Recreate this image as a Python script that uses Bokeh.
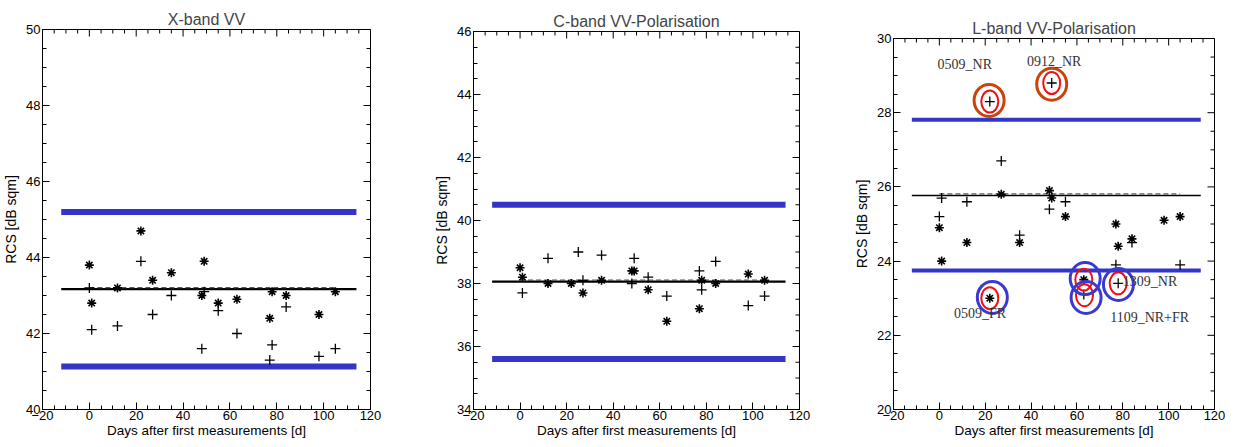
import numpy as np
from bokeh.plotting import figure
from bokeh.layouts import row, column
from bokeh.models import Range1d, SingleIntervalTicker, LinearAxis, Label, Spacer
from bokeh.embed import file_html
from bokeh.resources import INLINE

# ---------------- data ----------------
titles = ["X-band VV", "C-band VV-Polarisation", "L-band VV-Polarisation"]
y_limits = [(40, 50), (34, 46), (20, 30)]
x_limits = (-20, 120)
x_label = "Days after first measurements [d]"
y_label = "RCS [dB sqm]"

x_star_days = [0, 1, 12, 22, 27, 35, 48, 49, 55, 63, 77, 78, 84, 98, 105]
x_star = [43.8, 42.8, 43.2, 44.7, 43.4, 43.6, 43.0, 43.9, 42.8, 42.9, 42.4, 43.1, 43.0, 42.5, 43.1]
x_plus_days = [0, 1, 12, 22, 27, 35, 48, 49, 55, 63, 77, 78, 84, 98, 105]
x_plus = [43.2, 42.1, 42.2, 43.9, 42.5, 43.0, 41.6, 43.1, 42.6, 42.0, 41.3, 41.7, 42.7, 41.4, 41.6]

c_star_days = [0, 1, 12, 22, 27, 35, 48, 49, 55, 63, 77, 78, 84, 98, 105]
c_star = [38.5, 38.2, 38.0, 38.0, 37.7, 38.1, 38.4, 38.4, 37.8, 36.8, 37.2, 38.1, 38.0, 38.3, 38.1]
c_plus_days = [1, 12, 25, 27, 35, 48, 49, 55, 63, 77, 78, 84, 98, 105]
c_plus = [37.7, 38.8, 39.0, 38.1, 38.9, 38.0, 38.8, 38.2, 37.6, 38.4, 37.8, 38.7, 37.3, 37.6]

l_star_days = [0, 1, 12, 22, 27, 35, 48, 49, 55, 63, 77, 78, 84, 98, 105]
l_star = [24.9, 24.0, 24.5, 23.0, 25.8, 24.5, 25.9, 25.7, 25.2, 23.5, 25.0, 24.4, 24.6, 25.1, 25.2]
l_plus_days = [0, 1, 12, 22, 27, 35, 48, 49, 55, 63, 77, 78, 84, 105]
l_plus = [25.2, 25.7, 25.6, 28.3, 26.7, 24.7, 25.4, 28.8, 25.6, 23.1, 23.9, 23.4, 24.5, 23.9]

means = [43.17, 38.06, 25.77]
upper_limits = [45.2, 40.5, 27.81]
lower_limits = [41.13, 35.6, 23.75]
line_span = (-12, 114)

# L-band highlighted points
red_days = [22, 49, 22, 63, 63.3, 78]
red_vals = [28.3, 28.8, 23.0, 23.5, 23.08, 23.4]
brown_days = [21.7, 49]
brown_vals = [28.33, 28.77]
blue_days = [23.1, 63.6, 64, 78.1]
blue_vals = [23.02, 23.53, 23.02, 23.37]

annot_text = ["0509_NR", "0912_NR", "0509_FR", "1309_NR", "1109_NR+FR"]
annot_x = [-0.8, 38.2, 6.4, 80.0, 74.5]
annot_y = [29.3, 29.39, 22.6, 23.45, 22.47]

FONT = "Liberation Sans"
BLUE = "#3434c8"


def style_axis(ax):
    ax.major_tick_in = 7
    ax.major_tick_out = 0
    ax.minor_tick_in = 4
    ax.minor_tick_out = 0
    ax.major_tick_line_color = "black"
    ax.minor_tick_line_color = "black"
    ax.axis_line_color = "black"
    ax.major_label_text_font = FONT
    ax.major_label_text_font_size = "13px"
    ax.major_label_text_color = "black"
    ax.major_label_standoff = 2
    ax.axis_label_text_font = FONT
    ax.axis_label_text_font_size = "13.5px"
    ax.axis_label_text_font_style = "normal"
    ax.axis_label_text_color = "black"


def make_panel(i, sd, sv, pd, pv, frame, borders, blue_w, mean_w):
    ylo, yhi = y_limits[i]
    xlo, xhi = x_limits
    p = figure(frame_width=frame[0], frame_height=frame[1],
               output_backend="svg", toolbar_location=None,
               x_range=Range1d(xlo, xhi), y_range=Range1d(ylo, yhi),
               x_axis_type=None, y_axis_type=None,
               min_border_left=borders[0], min_border_right=borders[1],
               min_border_top=borders[2], min_border_bottom=borders[3])
    p.title.text = titles[i]
    p.title.align = "center"
    p.title.text_font = FONT
    p.title.text_font_size = "16px"
    p.title.text_font_style = "normal"
    p.title.standoff = 3
    p.outline_line_color = "black"
    p.outline_line_width = 1
    p.background_fill_color = "white"
    p.border_fill_color = "white"

    xb = LinearAxis(ticker=SingleIntervalTicker(interval=20, num_minor_ticks=4), axis_label=x_label)
    style_axis(xb)
    xb.major_label_standoff = 1
    xb.axis_label_standoff = 0
    yl = LinearAxis(ticker=SingleIntervalTicker(interval=2, num_minor_ticks=4), axis_label=y_label)
    style_axis(yl)
    yl.axis_label_standoff = 4
    yl.axis_label_text_font_size = "14px"
    p.add_layout(xb, "below")
    p.add_layout(yl, "left")

    # mirrored ticks on top and right (inside the frame)
    xmaj = np.arange(xlo, xhi + 0.1, 20)
    xmin = np.array([v for v in np.arange(xlo, xhi + 0.1, 5) if v % 20])
    ymaj = np.arange(ylo, yhi + 0.01, 2)
    ymin = np.array([v for v in np.arange(ylo, yhi + 0.01, 0.5) if v % 2])
    p.scatter(xmaj, [yhi] * len(xmaj), marker="dash", angle=np.pi / 2, size=14, line_color="black")
    p.scatter(xmin, [yhi] * len(xmin), marker="dash", angle=np.pi / 2, size=8, line_color="black")
    p.scatter([xhi] * len(ymaj), ymaj, marker="dash", size=14, line_color="black")
    p.scatter([xhi] * len(ymin), ymin, marker="dash", size=8, line_color="black")

    y_px = (yhi - ylo) / frame[1]
    # limit lines
    p.line(list(line_span), [upper_limits[i]] * 2, line_color=BLUE, line_width=blue_w)
    p.line(list(line_span), [lower_limits[i]] * 2, line_color=BLUE, line_width=blue_w)
    # mean lines
    p.line(list(line_span), [means[i]] * 2, line_color="black", line_width=mean_w)
    p.line([min(sd), max(sd)], [means[i] + 1.5 * y_px] * 2,
           line_color="#555555", line_width=1.3, line_dash="5 3")

    p.scatter(pd, pv, marker="cross", size=10, line_color="black", line_width=1.3)
    p.scatter(sd, sv, marker="asterisk", size=9, line_color="black", line_width=1.6)
    return p


p1 = make_panel(0, x_star_days, x_star, x_plus_days, x_plus, (328, 380), (38, 44, 5, 34), 6, 2.2)
p2 = make_panel(1, c_star_days, c_star, c_plus_days, c_plus, (326, 378), (59, 35, 5, 34), 6, 2.2)
p3 = make_panel(2, l_star_days, l_star, l_plus_days, l_plus, (321, 371), (59, 11, 5, 34), 4, 1.5)

for t, ax_, ay_ in zip(annot_text, annot_x, annot_y):
    p3.add_layout(Label(x=ax_, y=ay_, text=t, text_font="Liberation Serif",
                        text_font_size="14px", text_color="#333333",
                        text_baseline="middle", text_align="left"))

p3.ellipse(red_days, red_vals, width=17, height=22, width_units="screen", height_units="screen",
           fill_color=None, line_color="#ee1111", line_width=2)
p3.ellipse(brown_days, brown_vals, width=30, height=32, width_units="screen", height_units="screen",
           fill_color=None, line_color="#c8440c", line_width=3)
p3.ellipse(blue_days, blue_vals, width=30, height=32, width_units="screen", height_units="screen",
           fill_color=None, line_color="#3a3ad0", line_width=3)

layout = row(column(Spacer(height=7), p1),
             column(Spacer(height=9), p2),
             column(Spacer(height=16), p3))
open("out.html", "w").write(file_html(layout, INLINE))
